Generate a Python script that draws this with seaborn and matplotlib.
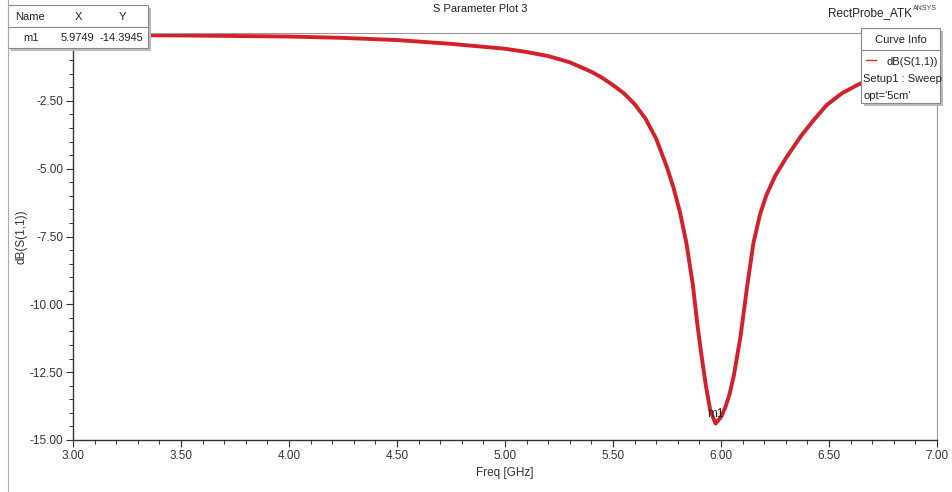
import pandas as pd
import matplotlib.pyplot as plt
import seaborn as sns
from matplotlib.patches import Rectangle
from matplotlib.lines import Line2D
from matplotlib.ticker import MultipleLocator

# values
freq = [3.00, 3.50, 4.00, 4.25, 4.50, 4.75, 5.00, 5.10, 5.20, 5.30, 5.40, 5.45,
        5.50, 5.55, 5.60, 5.65, 5.70, 5.75, 5.78, 5.81, 5.84, 5.87, 5.89, 5.91,
        5.93, 5.95, 5.9749, 6.00, 6.02, 6.04, 6.06, 6.09, 6.12, 6.15, 6.18,
        6.21, 6.25, 6.30, 6.37, 6.43, 6.49, 6.56, 6.64, 6.72, 6.80, 6.90, 7.00]
s11_db = [-0.07, -0.09, -0.13, -0.18, -0.26, -0.40, -0.58, -0.70, -0.85, -1.08,
          -1.43, -1.65, -1.92, -2.22, -2.62, -3.15, -3.90, -4.95, -5.70, -6.60,
          -7.75, -9.30, -10.70, -11.90, -13.00, -13.90, -14.3945, -14.15, -13.80,
          -13.30, -12.60, -11.20, -9.40, -7.75, -6.70, -5.98, -5.28, -4.62, -3.80,
          -3.20, -2.65, -2.22, -1.88, -1.65, -1.50, -1.36, -1.25]

marker_name = "m1"
marker_x = 5.9749
marker_y = -14.3945

xticks = [3.00, 3.50, 4.00, 4.50, 5.00, 5.50, 6.00, 6.50, 7.00]
yticks = [-15.00, -12.50, -10.00, -7.50, -5.00, -2.50]

df = pd.DataFrame({"Freq": freq, "dB": s11_db})

sns.set_style("white")
plt.rcParams['font.family'] = ['Liberation Sans', 'DejaVu Sans']

W, H = 952, 492
fig = plt.figure(figsize=(W / 100, H / 100), dpi=100)
ax = fig.add_axes([73 / W, 1 - 440 / H, (937 - 73) / W, (440 - 33) / H])


def px(x, y):
    return x / W, 1 - y / H


sns.lineplot(data=df, x="Freq", y="dB", ax=ax, color="#d42028", linewidth=2.8)

ax.set_xlim(3, 7)
ax.set_ylim(-15, 0)
ax.set_xticks(xticks)
ax.set_xticklabels([f"{v:.2f}" for v in xticks])
ax.set_yticks(yticks)
ax.set_yticklabels([f"{v:.2f}" for v in yticks])
ax.xaxis.set_minor_locator(MultipleLocator(0.1))
ax.yaxis.set_minor_locator(MultipleLocator(0.5))
ax.tick_params(which="major", direction="out", length=5, width=0.8, color="#333333",
               labelsize=8.5, labelcolor="#333333", pad=2)
ax.tick_params(which="minor", direction="out", length=3, width=0.7, color="#333333")
ax.tick_params(axis="x", which="both", bottom=True)
ax.tick_params(axis="y", which="both", left=True)
for s in ["left", "bottom"]:
    ax.spines[s].set_color("#333333")
    ax.spines[s].set_linewidth(1.0)
for s in ["top", "right"]:
    ax.spines[s].set_color("#999999")
    ax.spines[s].set_linewidth(0.8)

ax.set_xlabel("Freq [GHz]", fontsize=8.5, color="#333333", labelpad=4)
ax.set_ylabel("dB(S(1,1))", fontsize=8.5, color="#333333")
ax.yaxis.set_label_coords((28 - 73) / (937 - 73), 0.5)

ax.text(marker_x, marker_y + 0.35, marker_name, fontsize=8.5, color="#222222",
        ha="center", va="center")

# titles
fig.text(*px(480, 9), "S Parameter Plot 3", fontsize=8, color="#222222",
         ha="center", va="center")
fig.text(*px(870, 13), "RectProbe_ATK", fontsize=8.5, color="#222222",
         ha="center", va="center")
fig.text(*px(925, 8), "ANSYS", fontsize=5, color="#444444",
         ha="center", va="center")

# outer frame line on the left
fig.add_artist(Line2D([8 / W, 8 / W], [0, 1], color="#aaaaaa", lw=0.8))

# marker table (top-left)
x0, y0, x1, y1 = 8, 5, 148, 48
fig.add_artist(Rectangle(px(x0 + 3, y1 + 3), (x1 - x0) / W, (y1 - y0) / H,
                         facecolor="#bbbbbb", edgecolor="none"))
fig.add_artist(Rectangle(px(x0, y1), (x1 - x0) / W, (y1 - y0) / H,
                         facecolor="white", edgecolor="#888888", lw=0.8))
fig.add_artist(Line2D([x0 / W, x1 / W], [1 - 27 / H, 1 - 27 / H],
                      color="#888888", lw=0.8))
for xx, t in [(30, "Name"), (78, "X"), (122, "Y")]:
    fig.text(*px(xx, 17), t, fontsize=8, color="#222222", ha="center", va="center")
for xx, t in [(31, marker_name), (77, f"{marker_x:.4f}"), (121, f"{marker_y:.4f}")]:
    fig.text(*px(xx, 38), t, fontsize=8, color="#222222", ha="center", va="center")

# curve info box (top-right)
x0, y0, x1, y1 = 861, 28, 940, 103
fig.add_artist(Rectangle(px(x0 + 3, y1 + 3), (x1 - x0) / W, (y1 - y0) / H,
                         facecolor="#bbbbbb", edgecolor="none"))
fig.add_artist(Rectangle(px(x0, y1), (x1 - x0) / W, (y1 - y0) / H,
                         facecolor="white", edgecolor="#888888", lw=0.8))
fig.add_artist(Line2D([x0 / W, x1 / W], [1 - 50 / H, 1 - 50 / H],
                      color="#888888", lw=0.8))
fig.text(*px(901, 40), "Curve Info", fontsize=8, color="#222222",
         ha="center", va="center")
fig.add_artist(Line2D([866 / W, 876 / W], [1 - 60 / H, 1 - 60 / H],
                      color="#d42028", lw=1.0))
fig.text(*px(938, 62), "dB(S(1,1))", fontsize=8, color="#222222",
         ha="right", va="center")
fig.text(*px(863, 79), "Setup1 : Sweep", fontsize=8, color="#222222",
         ha="left", va="center")
fig.text(*px(863, 96), "opt='5cm'", fontsize=8, color="#222222",
         ha="left", va="center")

fig.savefig("out.png", dpi=100)
